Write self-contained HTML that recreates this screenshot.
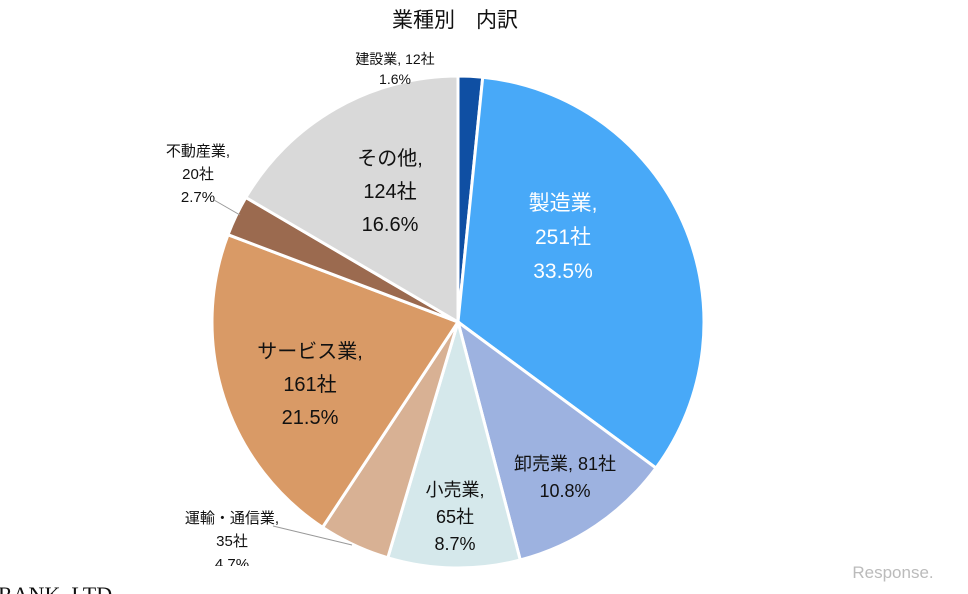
<!DOCTYPE html>
<html><head><meta charset="utf-8"><style>
html,body{margin:0;padding:0;background:#fff;width:968px;height:594px;overflow:hidden}
svg text{font-family:"Liberation Sans","Noto Sans CJK JP",sans-serif}
</style></head><body>
<svg id="chart" width="968" height="594" viewBox="0 0 968 594" xmlns="http://www.w3.org/2000/svg">
<text x="455" y="27" font-size="21" text-anchor="middle" fill="#111">業種別　内訳</text>
<g id="slices"></g>
<g id="labels"></g>
<line x1="214" y1="200" x2="240" y2="215" stroke="#999" stroke-width="1"/>
<line x1="273" y1="526" x2="352" y2="545" stroke="#999" stroke-width="1"/>
<rect x="150" y="566" width="200" height="12" fill="#fff"/>
<text x="-2" y="602" font-family="Liberation Serif,serif" font-size="22" fill="#111" style="font-family:'Liberation Serif',serif">RANK, LTD</text>
<text x="893" y="578" font-size="17" text-anchor="middle" fill="#bbb">Response.</text>
</svg>
<script>
const categories=["建設業","製造業","卸売業","小売業","運輸・通信業","サービス業","不動産業","その他"];
const counts=[12,251,81,65,35,161,20,124];
const percents=["1.6%","33.5%","10.8%","8.7%","4.7%","21.5%","2.7%","16.6%"];
const colors=["#0F4FA3","#48A9F8","#9DB2E0","#D5E8EB","#D8B194","#D99A66","#9B6A4F","#D9D9D9"];
const cx=458,cy=322,r=246;
const NS="http://www.w3.org/2000/svg";
const total=counts.reduce((a,b)=>a+b,0);
function pt(a,rr){return [cx+rr*Math.sin(a),cy-rr*Math.cos(a)];}
let acc=0;
const g=document.getElementById('slices');
counts.forEach((v,i)=>{
  const a0=acc/total*2*Math.PI;acc+=v;const a1=acc/total*2*Math.PI;
  const p0=pt(a0,r),p1=pt(a1,r);
  const p=document.createElementNS(NS,'path');
  p.setAttribute('d',`M${cx},${cy}L${p0[0]},${p0[1]}A${r},${r} 0 ${a1-a0>Math.PI?1:0} 1 ${p1[0]},${p1[1]}Z`);
  p.setAttribute('fill',colors[i]);p.setAttribute('stroke','#fff');p.setAttribute('stroke-width','3');
  
  
  g.appendChild(p);
});
// label layout: [x, y, fontSize, color, lines as template]
const lay=[
 [395,64,14,"#111",[c=>c+", "+counts[0]+"社"],[p=>p],20],
 [563,210,21,"#fff",null,null,34],
 [565,470,18,"#111",null,null,27],
 [455,496,18,"#111",null,null,27],
 [232,523,15,"#111",null,null,23],
 [310,358,20,"#111",null,null,33],
 [198,156,15,"#111",null,null,23],
 [390,165,20,"#111",null,null,33]
];
const lg=document.getElementById('labels');
categories.forEach((c,i)=>{
  const [x,y,fs,col,,,lh]=lay[i];
  let lines;
  if(i===0) lines=[c+", "+counts[i]+"社",percents[i]];
  else if(i===2) lines=[c+", "+counts[i]+"社",percents[i]];
  else lines=[c+",",counts[i]+"社",percents[i]];
  const t=document.createElementNS(NS,'text');
  t.setAttribute('x',x);t.setAttribute('y',y);t.setAttribute('font-size',fs);
  t.setAttribute('fill',col);t.setAttribute('text-anchor','middle');
  
  
  lines.forEach((l,k)=>{const s=document.createElementNS(NS,'tspan');s.setAttribute('x',x);s.setAttribute('dy',k?lh:0);s.textContent=l;t.appendChild(s);});
  lg.appendChild(t);
});
</script>
</body></html>
